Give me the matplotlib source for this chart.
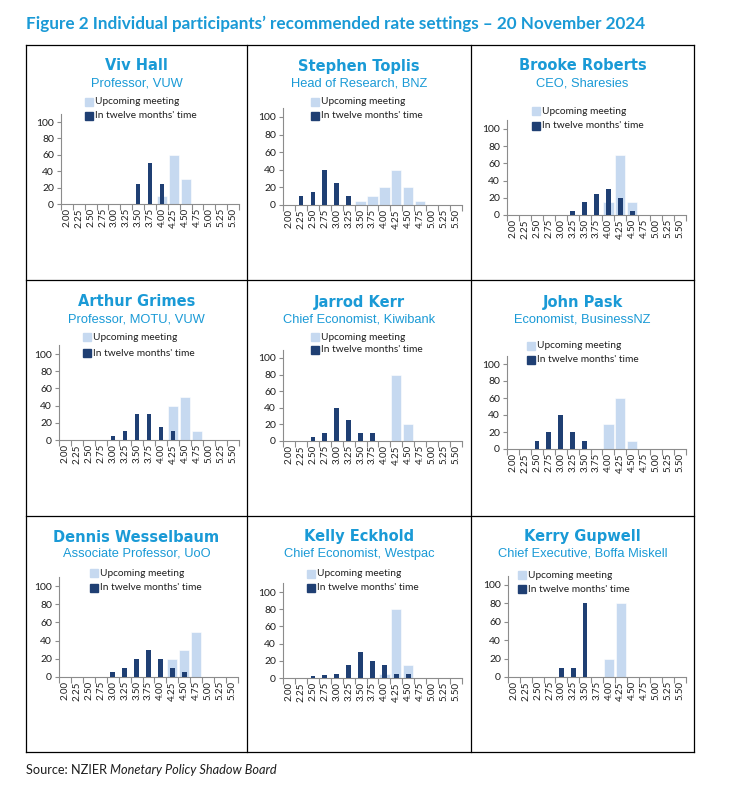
import matplotlib
matplotlib.use('Agg')
import matplotlib.pyplot as plt
from matplotlib.patches import Rectangle
from matplotlib.lines import Line2D
import numpy as np

W, H = 730, 785

rates = ['2.00', '2.25', '2.50', '2.75', '3.00', '3.25', '3.50', '3.75',
         '4.00', '4.25', '4.50', '4.75', '5.00', '5.25', '5.50']

names = ['Viv Hall', 'Stephen Toplis', 'Brooke Roberts',
         'Arthur Grimes', 'Jarrod Kerr', 'John Pask',
         'Dennis Wesselbaum', 'Kelly Eckhold', 'Kerry Gupwell']
roles = ['Professor, VUW', 'Head of Research, BNZ', 'CEO, Sharesies',
         'Professor, MOTU, VUW', 'Chief Economist, Kiwibank', 'Economist, BusinessNZ',
         'Associate Professor, UoO', 'Chief Economist, Westpac', 'Chief Executive, Boffa Miskell']

# % of probability for each rate bucket
upcoming = [
    [0, 0, 0, 0, 0, 0, 0, 0, 10, 60, 30, 0, 0, 0, 0],
    [0, 0, 0, 0, 0, 0, 5, 10, 20, 40, 20, 5, 0, 0, 0],
    [0, 0, 0, 0, 0, 0, 0, 0, 15, 70, 15, 0, 0, 0, 0],
    [0, 0, 0, 0, 0, 0, 0, 0, 0, 40, 50, 10, 0, 0, 0],
    [0, 0, 0, 0, 0, 0, 0, 0, 0, 80, 20, 0, 0, 0, 0],
    [0, 0, 0, 0, 0, 0, 0, 0, 30, 60, 10, 0, 0, 0, 0],
    [0, 0, 0, 0, 0, 0, 0, 0, 0, 20, 30, 50, 0, 0, 0],
    [0, 0, 0, 0, 0, 0, 0, 0, 5, 80, 15, 0, 0, 0, 0],
    [0, 0, 0, 0, 0, 0, 0, 0, 20, 80, 0, 0, 0, 0, 0],
]
twelve = [
    [0, 0, 0, 0, 0, 0, 25, 50, 25, 0, 0, 0, 0, 0, 0],
    [0, 10, 15, 40, 25, 10, 0, 0, 0, 0, 0, 0, 0, 0, 0],
    [0, 0, 0, 0, 0, 5, 15, 25, 30, 20, 5, 0, 0, 0, 0],
    [0, 0, 0, 0, 5, 10, 30, 30, 15, 10, 0, 0, 0, 0, 0],
    [0, 0, 5, 10, 40, 25, 10, 10, 0, 0, 0, 0, 0, 0, 0],
    [0, 0, 10, 20, 40, 20, 10, 0, 0, 0, 0, 0, 0, 0, 0],
    [0, 0, 0, 0, 5, 10, 20, 30, 20, 10, 5, 0, 0, 0, 0],
    [0, 0, 2, 3, 5, 15, 30, 20, 15, 5, 5, 0, 0, 0, 0],
    [0, 0, 0, 0, 10, 10, 80, 0, 0, 0, 0, 0, 0, 0, 0],
]

BLUE = '#1a9ad6'
DARK = '#1f3f73'
LIGHT = '#c6d9f0'
AXC = '#8c8c8c'
TXT = '#1e1e1e'

# plot area pixels: left, right, y of 0, y of 100
plot_px = [(61, 239, 204, 122), (283, 462, 205, 117), (507, 686, 215, 129),
           (59, 239, 440, 354), (283, 462, 441, 358), (507, 686, 449, 364),
           (59, 238, 677, 586), (283, 462, 678, 592), (508, 686, 677, 585)]
# legend: square left x, y line 1, y line 2
leg_px = [(85, 102, 116), (311, 102, 116), (532, 111, 126),
          (83, 337, 353), (311, 337, 350), (527, 346, 360),
          (90, 573, 588), (307, 574, 588), (518, 575, 589)]
col_x = [26, 247, 471, 694]
row_y = [45, 280, 516, 752]

fig = plt.figure(figsize=(W / 100, H / 100), dpi=100)

def fx(x):
    return x / W

def fy(y):
    return 1 - y / H

fig.text(fx(26), fy(24), 'Figure 2 Individual participants\u2019 recommended rate settings \u2013 20 November 2024',
         color=BLUE, fontsize=12.3, fontweight='bold', family='Lato', va='center', ha='left')

# panel grid
for x in col_x:
    fig.add_artist(Line2D([fx(x), fx(x)], [fy(row_y[0]), fy(row_y[-1])], color='black', lw=0.9))
for y in row_y:
    fig.add_artist(Line2D([fx(col_x[0]), fx(col_x[-1])], [fy(y), fy(y)], color='black', lw=0.9))

x = np.arange(len(rates))
for i in range(9):
    r, c = divmod(i, 3)
    left, right, y0, y100 = plot_px[i]
    top = y0 - 1.1 * (y0 - y100)
    ax = fig.add_axes([fx(left), fy(y0), (right - left) / W, (y0 - top) / H])
    ax.bar(x, upcoming[i], width=0.85, color=LIGHT, edgecolor='white', linewidth=0.4, zorder=2)
    ax.bar(x, twelve[i], width=0.38, color=DARK, zorder=3)
    ax.set_xlim(-0.5, len(rates) - 0.5)
    ax.set_ylim(0, 110)
    ax.set_yticks(range(0, 101, 20))
    ax.set_xticks(x)
    ax.set_xticklabels(rates, rotation=90)
    ax.set_xticks(np.arange(-0.5, len(rates)), minor=True)
    ax.tick_params(axis='x', which='major', length=0, pad=3, labelsize=7, labelcolor=TXT)
    ax.tick_params(axis='x', which='minor', length=4, color=AXC, width=0.8)
    ax.tick_params(axis='y', length=3, color=AXC, width=0.8, pad=2, labelsize=7.5, labelcolor=TXT)
    for lab in ax.get_xticklabels() + ax.get_yticklabels():
        lab.set_family('Lato')
    for s in ['top', 'right']:
        ax.spines[s].set_visible(False)
    for s in ['left', 'bottom']:
        ax.spines[s].set_color(AXC)
        ax.spines[s].set_linewidth(0.8)
    ax.set_facecolor('none')

    cx = (col_x[c] + col_x[c + 1]) / 2
    ny = (66, 302, 537)[r]
    fig.text(fx(cx), fy(ny), names[i], color=BLUE, fontsize=10.5, fontweight='bold',
             family='DejaVu Sans', ha='center', va='center')
    fig.text(fx(cx), fy(ny + 17), roles[i], color=BLUE, fontsize=9.3,
             family='Liberation Sans', ha='center', va='center')

    sx, ly1, ly2 = leg_px[i]
    for ly, col, lab in [(ly1, LIGHT, 'Upcoming meeting'), (ly2, DARK, 'In twelve months\' time')]:
        fig.add_artist(Rectangle((fx(sx), fy(ly + 4)), 8 / W, 8 / H, color=col))
        fig.text(fx(sx + 10), fy(ly), lab, color=TXT, fontsize=7.3, family='Lato',
                 ha='left', va='center')

t1 = fig.text(fx(26), fy(770), 'Source: NZIER ', fontsize=9.2, family='Lato', color=TXT,
              ha='left', va='center')
fig.canvas.draw()
bb = t1.get_window_extent(renderer=fig.canvas.get_renderer())
fig.text(bb.x1 / W, fy(770), 'Monetary Policy Shadow Board', fontsize=9.2, family='Lato',
         style='italic', color=TXT, ha='left', va='center')

fig.savefig('out.png', dpi=100, facecolor='white')
